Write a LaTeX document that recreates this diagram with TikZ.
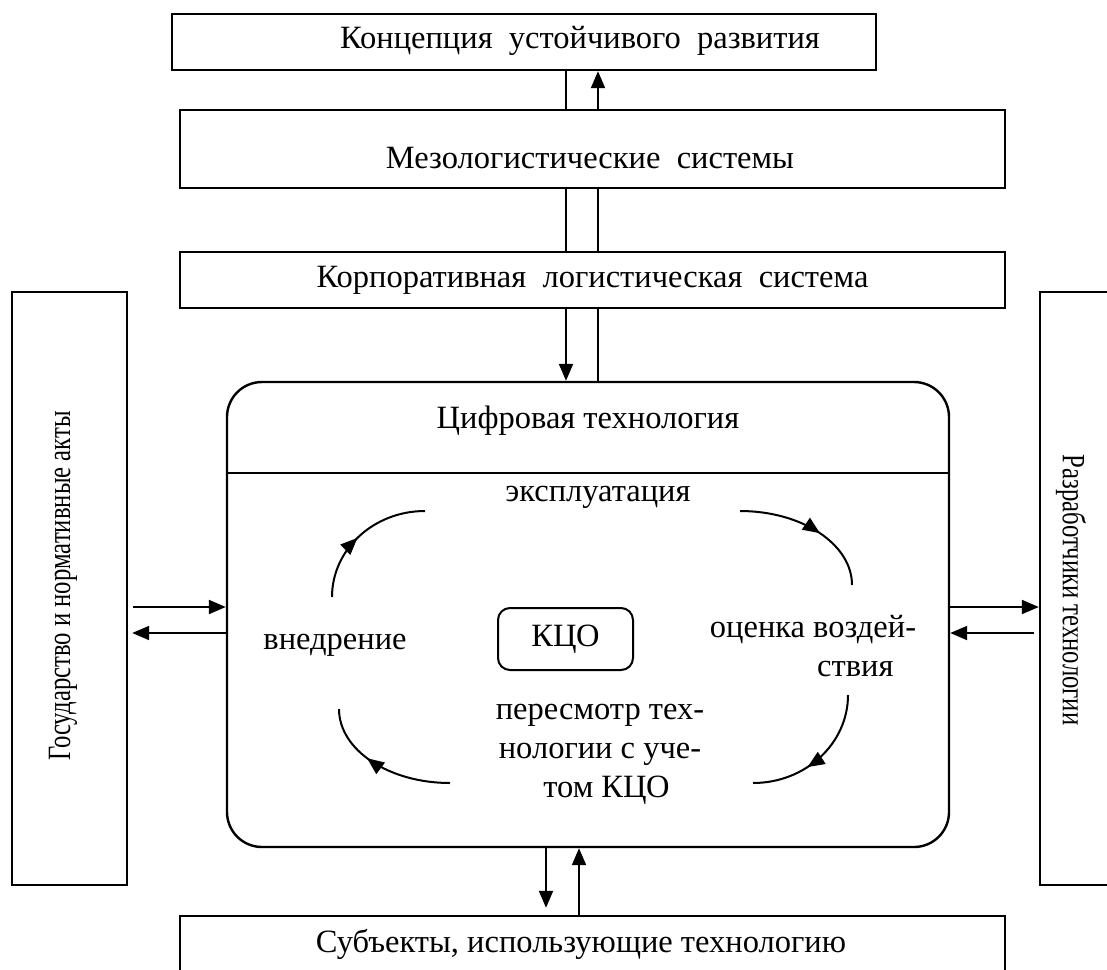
\documentclass[tikz,border=0pt]{standalone}
\usepackage{fontspec}
\usepackage{graphicx}
\setmainfont{Liberation Serif}
\usetikzlibrary{arrows.meta,decorations.markings}
\begin{document}
\begin{tikzpicture}[x=1pt,y=-1pt,
  every node/.style={font=\fontsize{32.5}{39}\selectfont},
  box/.style={draw,line width=2.4pt,inner sep=0pt},
  link/.style={line width=2pt},
  tip/.style={-{Triangle[length=17pt,width=14pt]}},
  arr/.style={link,tip},
  cyc/.style={line width=2pt,postaction={decorate},
    decoration={markings,mark=at position #1 with {\arrow{Triangle[length=17pt,width=14pt]}}}},
]
\useasboundingbox (0,0) rectangle (1107,969);

% levels of the logistic system
\node[box,minimum width=704pt,minimum height=56pt] (top) at (524,42) {};
\node (toptxt) at (580,41) {Концепция\ \ устойчивого\ \ развития};
\node[box,minimum width=825pt,minimum height=78pt] (meso) at (592.5,149) {};
\node (mesotxt) at (590,158) {Мезологистические\ \ системы};
\node[box,minimum width=825pt,minimum height=56pt] (korp) at (592.5,280)
  {Корпоративная\ \ логистическая\ \ система};

% central block
\node[box,rounded corners=35pt,minimum width=722pt,minimum height=465pt] (main) at (588,614.5) {};
\node (title) at (588,421) {Цифровая технология};
\coordinate (hl) at (0,473);
\draw[link] (main.west |- hl) -- (main.east |- hl);

% side blocks
\node[box,minimum width=115pt,minimum height=593pt] (left) at (69.5,588.5) {};
\node[rotate=90] (lefttxt) at (63,586) {\scalebox{0.76}[1]{Государство и нормативные акты}};
\node[box,minimum width=90pt,minimum height=593pt] (right) at (1085,588.5) {};
\node[rotate=-90] (righttxt) at (1071,590) {\scalebox{0.76}[1]{Разработчики технологии}};

% bottom block
\node[box,minimum width=825pt,minimum height=90pt] (bot) at (592.5,961) {};
\node (bottxt) at (581,944) {Субъекты, использующие технологию};

% vertical links
\coordinate (lx) at (566,0);
\coordinate (rx) at (598,0);
\draw[link] (top.south -| lx) -- (meso.north -| lx);
\draw[arr] (meso.north -| rx) -- (top.south -| rx);
\draw[link] (meso.south -| lx) -- (korp.north -| lx);
\draw[link] (meso.south -| rx) -- (korp.north -| rx);
\draw[arr] (korp.south -| lx) -- (main.north -| lx);
\draw[link] (korp.south -| rx) -- (main.north -| rx);

\coordinate (bx1) at (546,0);
\coordinate (bx2) at (579,0);
\draw[arr,shorten >=7pt] (main.south -| bx1) -- (bot.north -| bx1);
\draw[arr] (bot.north -| bx2) -- (main.south -| bx2);

% horizontal links
\coordinate (ya) at (0,607);
\coordinate (yb) at (0,633);
\draw[arr,shorten <=5pt] (left.east |- ya) -- (main.west |- ya);
\draw[arr,shorten >=4pt] (main.west |- yb) -- (left.east |- yb);
\draw[arr] (main.east |- ya) -- (right.west |- ya);
\draw[arr,shorten <=5pt] (right.west |- yb) -- (main.east |- yb);

% life cycle inside the block
\node (use) at (598,497) {эксплуатация};
\node (intro) at (335,645) {внедрение};
\node[draw,line width=2pt,rounded corners=12pt,minimum width=135pt,minimum height=62pt] (kco) at (565.5,639) {КЦО};
\node[align=left] (assess) at (813,646) {оценка воздей-\\\hspace*{3.3em}ствия};
\node[align=center] (review) at (600,754) {пересмотр тех-\\нологии с уче-\\\hspace*{0.4em}том КЦО};

\coordinate (a1) at (332,597); \coordinate (a2) at (425,511);
\coordinate (b1) at (740,511); \coordinate (b2) at (852,585);
\coordinate (c1) at (848,695); \coordinate (c2) at (753,783);
\coordinate (d1) at (450,783); \coordinate (d2) at (339,709);
\draw[cyc=0.47] (a1) .. controls (332,549.5) and (373.6,511) .. (a2);
\draw[cyc=0.57] (b1) .. controls (801.9,511) and (852,544.1) .. (b2);
\draw[cyc=0.6] (c1) .. controls (848,743.6) and (805.5,783) .. (c2);
\draw[cyc=0.6] (d1) .. controls (388.7,783) and (339,749.9) .. (d2);
\end{tikzpicture}
\end{document}
